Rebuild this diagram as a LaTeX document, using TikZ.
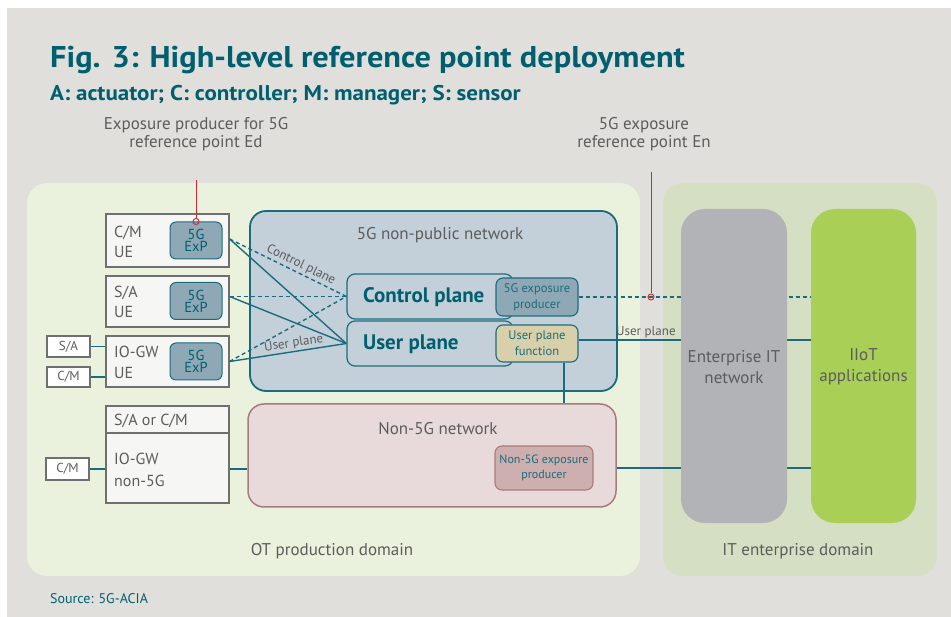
\documentclass[tikz,border=0pt]{standalone}
\usepackage{fontspec}
\setmainfont{PT Sans}
\newfontfamily\headfont{PT Sans}[FakeStretch=1.08]
\usetikzlibrary{calc}

\definecolor{pagegrey}{HTML}{E0DFDB}
\definecolor{otgreen}{HTML}{EAF1DC}
\definecolor{itgreen}{HTML}{D4DFC3}
\definecolor{entgrey}{HTML}{B2B3B6}
\definecolor{iiotgreen}{HTML}{A9CF57}
\definecolor{npnfill}{HTML}{C3D0D9}
\definecolor{linkteal}{HTML}{1B6B7D}
\definecolor{exfill}{HTML}{8FA8B5}
\definecolor{upffill}{HTML}{D8D0AA}
\definecolor{nonfill}{HTML}{E8DADB}
\definecolor{nonedge}{HTML}{A87C7B}
\definecolor{nexfill}{HTML}{CCAFAE}
\definecolor{uefill}{HTML}{F6F6F5}
\definecolor{ueedge}{HTML}{6F6F6F}
\definecolor{titleteal}{HTML}{005F6F}
\definecolor{labelgrey}{HTML}{5C5C5C}
\definecolor{refred}{HTML}{CC2B36}

\begin{document}
\begin{tikzpicture}[x=1pt,y=-1pt,
  areabox/.style={rectangle, rounded corners=20pt, inner sep=0pt},
  itblock/.style={rectangle, rounded corners=24pt, inner sep=0pt, text=labelgrey,
    align=center, font=\fontsize{17}{21}\selectfont},
  uebox/.style={rectangle, draw=ueedge, line width=1.2pt, fill=uefill, inner sep=0pt},
  uetext/.style={anchor=west, inner sep=0pt, align=left, text=labelgrey,
    font=\fontsize{16}{20.5}\selectfont},
  tinybox/.style={rectangle, draw=ueedge, line width=1.2pt, fill=white, inner sep=0pt,
    minimum width=43pt, minimum height=21pt, text=labelgrey, font=\fontsize{13}{15}\selectfont},
  expbox/.style={rectangle, rounded corners=6pt, draw=linkteal, line width=1pt, fill=exfill,
    inner sep=0pt, minimum width=52pt, minimum height=37pt, text=titleteal, align=center,
    font=\fontsize{14.5}{12}\selectfont},
  netbox/.style={rectangle, rounded corners=16pt, line width=1.8pt, inner sep=0pt},
  planebox/.style={rectangle, rounded corners=8pt, draw=linkteal, line width=1.2pt,
    fill=npnfill, inner sep=0pt, minimum width=166pt, minimum height=45pt},
  planetext/.style={anchor=west, inner sep=0pt, text=titleteal, font=\bfseries\fontsize{21}{24}\selectfont},
  funcbox/.style={rectangle, rounded corners=7pt, draw=linkteal, line width=1.1pt,
    inner sep=0pt, text=linkteal, align=center, font=\fontsize{12.5}{16}\selectfont},
  capt/.style={inner sep=0pt, text=labelgrey, font=\fontsize{17}{18}\selectfont},
  smallcap/.style={inner sep=1.5pt, text=labelgrey, font=\fontsize{13}{15}\selectfont},
  link/.style={draw=linkteal, line width=1.4pt},
  ctrllink/.style={link, dash pattern=on 4pt off 3pt},
  refline/.style={draw=refred, line width=1pt},
  refdot/.style={circle, draw=refred, line width=1pt, fill=none, inner sep=0pt, minimum size=6pt}
]
\useasboundingbox (0,0) rectangle (951,617);
\fill[white] (0,0) rectangle (951,617);
\fill[pagegrey] (7,8) rectangle (951,617);

% heading
\node[anchor=base west, inner sep=0pt, text=titleteal, font=\headfont\bfseries\fontsize{30}{32}\selectfont]
  (title) at (50,68) {Fig. 3: High-level reference point deployment};
\node[anchor=base west, inner sep=0pt, text=titleteal, font=\headfont\bfseries\fontsize{21.3}{23}\selectfont]
  (subtitle) at (50,100.5) {A: actuator; C: controller; M: manager; S: sensor};

% domains
\node[areabox, fill=otgreen, minimum width=613pt, minimum height=393pt] (ot) at (333.5,379.5) {};
\node[areabox, fill=itgreen, minimum width=274pt, minimum height=393pt] (it) at (800,379.5) {};
\node[capt, anchor=base] (otlabel) at (332,555) {OT production domain};
\node[capt, anchor=base] (itlabel) at (798,555) {IT enterprise domain};

% IT side blocks
\node[itblock, fill=iiotgreen, minimum width=105pt, minimum height=314pt] (iiot) at (863.5,366) {};
\node[itblock, anchor=center] (iiottext) at (863.5,367) {IIoT\\applications};

% 5G non-public network
\node[netbox, draw=linkteal, fill=npnfill, minimum width=367pt, minimum height=180pt] (npn) at (433.5,301) {};
\node[capt, anchor=base] (npnlabel) at (440,240) {5G non-public network};
\node[planebox] (cp) at (430,296.5) {};
\node[planebox] (up) at (430,343.5) {};
\node[planetext] (cptext) at (363,297) {Control plane};
\node[planetext] (uptext) at (363,344) {User plane};
\node[funcbox, fill=exfill, minimum width=82pt, minimum height=38pt] (ep) at (537,297) {5G exposure\\producer};
\node[funcbox, fill=upffill, minimum width=82pt, minimum height=37pt] (upf) at (537,343.5) {User plane\\function};

% non-5G network
\node[netbox, draw=nonedge, line width=1.5pt, fill=nonfill, minimum width=368pt, minimum height=103pt] (n5g) at (432,455.5) {};
\node[capt, anchor=base] (n5glabel) at (438,435) {Non-5G network};
\node[funcbox, draw=nonedge, fill=nexfill, minimum width=98pt, minimum height=44pt,
  text=linkteal, font=\fontsize{12}{14.5}\selectfont] (n5gep) at (544,468) {Non-5G exposure\\producer};

% connections towards the IT domain (drawn before the enterprise network block)
\draw[ctrllink] (ep.east) -- (ep.east -| iiot.west);
\coordinate (upout) at ($(upf.east)+(0,-3.5)$);
\draw[link] (upout) -- node[smallcap, above, pos=0.29] (uplabel) {User plane} (upout -| iiot.west);
\coordinate (n5gout) at (n5g.east |- n5gep.center);
\draw[link] (n5gout) -- (n5gout -| iiot.west);
\coordinate (upfdown) at ($(upf.south)+(27,0)$);
\draw[link] (upfdown) -- (upfdown |- n5g.north);

\node[itblock, fill=entgrey, minimum width=106pt, minimum height=314pt] (ent) at (734,366) {};
\node[itblock, anchor=center] (enttext) at (734,367) {Enterprise IT\\network};

% user equipment
\node[uebox, minimum width=123pt, minimum height=53pt] (ue1) at (167.5,240.5) {};
\node[uebox, minimum width=123pt, minimum height=51pt] (ue2) at (167.5,301.5) {};
\node[uebox, minimum width=123pt, minimum height=51pt] (ue3) at (167.5,361.5) {};
\node[uetext] (ue1t) at (114,242) {C/M\\UE};
\node[uetext] (ue2t) at (114,302) {S/A\\UE};
\node[uetext] (ue3t) at (114,362.5) {IO-GW\\UE};
\node[expbox] (exp1) at (196,240.5) {5G\\ExP};
\node[expbox] (exp2) at (196,301) {5G\\ExP};
\node[expbox] (exp3) at (196,361.5) {5G\\ExP};
\node[tinybox] (sa) at (68.5,346.5) {S/A};
\node[tinybox, minimum height=20pt] (cm) at (68.5,377) {C/M};
\draw[link] (sa.east) -- (sa.east -| ue3.west);
\draw[link] (cm.east) -- (cm.east -| ue3.west);

% non-5G gateway
\node[uebox, minimum width=123pt, minimum height=27pt] (gwhead) at (167.5,419.5) {};
\node[uebox, minimum width=123pt, minimum height=70pt] (gwbody) at (167.5,468) {};
\node[uetext] (gwheadt) at (114,421) {S/A or C/M};
\node[uetext, font=\fontsize{16}{22}\selectfont] (gwbodyt) at (114,469.5) {IO-GW\\non-5G};
\node[tinybox, minimum height=22pt] (cm2) at (67.5,469) {C/M};
\draw[link] (cm2.east) -- (cm2.east -| gwbody.west);
\draw[link] (gwbody.east |- cm2.east) -- (cm2.east -| n5g.west);

% UE links to the control and user plane
\coordinate (ue1out) at ($(ue1.east)+(0,-1.5)$);
\coordinate (ue2out) at (ue2.east |- cp.west);
\coordinate (ue3out) at (ue3.east);
\draw[ctrllink] (ue1out) -- node[smallcap, sloped, above, pos=0.58] (cplabel) {Control plane} (cp.west);
\draw[ctrllink] (ue2out) -- (cp.west);
\draw[ctrllink] (ue3out) -- (cp.west);
\draw[link] (ue1out) -- (up.west);
\draw[link] (ue2out) -- (up.west);
\draw[link] (ue3out) -- node[smallcap, sloped, above, pos=0.56] (uplabel2) {User plane} (up.west);

% reference points
\node[capt, align=center, anchor=base, font=\fontsize{17}{18}\selectfont] (edlabel) at (196,148)
  {Exposure producer for 5G\\reference point Ed};
\node[capt, align=center, anchor=base, font=\fontsize{17}{18}\selectfont] (enlabel) at (644,148)
  {5G exposure\\reference point En};
\coordinate (edtop) at (196,180);
\coordinate (entop) at (651,172);
\coordinate (enx) at (651,0);
\node[refdot] (eddot) at (exp1.north) {};
\node[refdot] (endot) at (enx |- ep.east) {};
\draw[refline] (edtop) -- (eddot.north);
\draw[refline] (entop) -- (endot.north);

% source
\node[anchor=base west, inner sep=0pt, text=titleteal, font=\fontsize{14}{16}\selectfont]
  (source) at (50,603) {Source: 5G-ACIA};
\end{tikzpicture}
\end{document}
